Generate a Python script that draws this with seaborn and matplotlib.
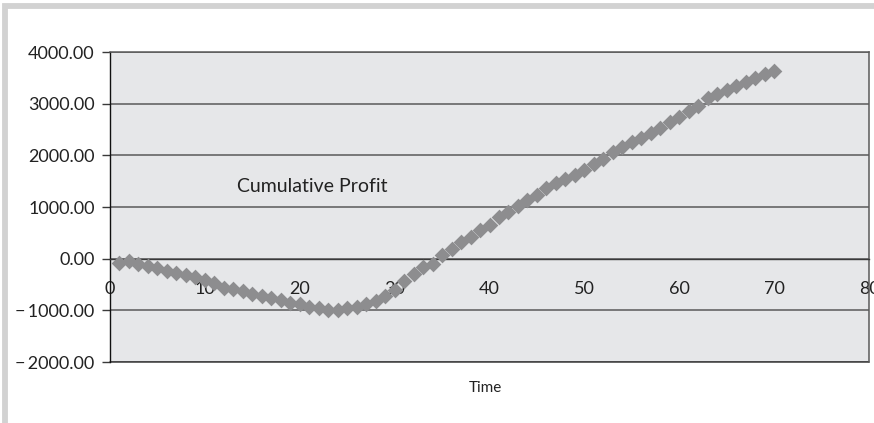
import numpy as np
import pandas as pd
import matplotlib.pyplot as plt
import matplotlib.ticker as mticker
from matplotlib.patches import Rectangle
import seaborn as sns

sns.set_style("white")
plt.rcParams['font.family'] = ['Lato', 'DejaVu Sans']

# cumulative profit per period
time = list(range(1, 71))
profit = [-80, -50, -110, -150, -190, -230, -270, -320, -360, -420,
          -470, -560, -580, -630, -680, -720, -760, -800, -850, -880,
          -930, -960, -995, -1000, -960, -930, -880, -820, -720, -600,
          -430, -300, -170, -100, 80, 180, 320, 420, 560, 660,
          800, 900, 1010, 1140, 1240, 1360, 1460, 1540, 1620, 1710,
          1830, 1930, 2060, 2160, 2260, 2340, 2430, 2530, 2650, 2740,
          2860, 2960, 3110, 3190, 3270, 3340, 3420, 3500, 3570, 3640]
x_ticks = [0, 10, 20, 30, 40, 50, 60, 70, 80]
y_ticks = [-2000, -1000, 0, 1000, 2000, 3000, 4000]

df = pd.DataFrame({'Time': time, 'Profit': profit})

fig = plt.figure(figsize=(8.74, 4.23), dpi=100)
ax = fig.add_axes([110/874, 1 - 362/423, (869 - 110)/874, (362 - 52)/423])
ax.set_facecolor('#e6e7e9')

# light grey frame round the chart (only left/top show)
fig.patches.append(Rectangle((5/874, -0.2), 1.5, 1.2 - 6/423, transform=fig.transFigure,
                             fill=False, edgecolor='#d2d2d2', linewidth=4.2, zorder=0))

sns.scatterplot(data=df, x='Time', y='Profit', marker='D', s=64, color='#8d8d8f',
                linewidth=0, ax=ax, zorder=3, clip_on=False)

ax.set_xlim(0, 80)
ax.set_ylim(-2000, 4000)
ax.set_xticks(x_ticks)
ax.set_yticks(y_ticks)
ax.yaxis.set_major_formatter(mticker.FuncFormatter(
    lambda v, p: ('\u2212\u2009' if v < 0 else '') + f"{abs(v):.2f}"))

ax.grid(axis='y', color='#5a5a5a', linewidth=1.1, zorder=1)
ax.set_axisbelow(True)

ax.spines['bottom'].set_position(('data', 0))
ax.spines['bottom'].set_color('#3a3a3a')
ax.spines['bottom'].set_linewidth(1.0)
ax.spines['left'].set_color('#111111')
ax.spines['left'].set_linewidth(1.0)
for s in ['top', 'right']:
    ax.spines[s].set_color('#5a5a5a')
    ax.spines[s].set_linewidth(1.1)
ax.axhline(-2000, color='#3a3a3a', linewidth=1.1, clip_on=False)

ax.tick_params(axis='x', direction='out', length=3, width=1, color='#3a3a3a',
               pad=13, labelsize=13, labelcolor='#222222')
ax.tick_params(axis='y', direction='out', length=6, width=1, color='#3a3a3a',
               pad=5, labelsize=13, labelcolor='#222222', left=True)

ax.set_ylabel('')
ax.set_xlabel('')
fig.text(485/874, 1 - 388/423, 'Time', ha='center', va='center', fontsize=11, color='#222222')
ax.text(13.4, 1390, 'Cumulative Profit', ha='left', va='center', fontsize=14, color='#222222')

fig.savefig('out.png', dpi=100)
